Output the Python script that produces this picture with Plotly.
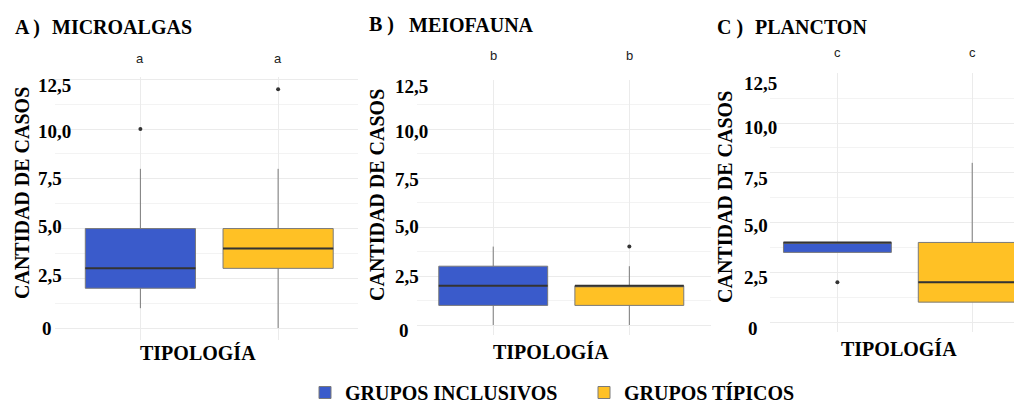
import plotly.graph_objects as go

# figure is a bit taller than the 403 px window; everything is placed in
# window pixels, the extra strip below 403 px stays empty
W, H = 1014, 417

groups = ["GRUPOS INCLUSIVOS", "GRUPOS TÍPICOS"]
colors = ["#3A5BCB", "#FFC125"]

panels = ["MICROALGAS", "MEIOFAUNA", "PLANCTON"]
panel_tags = ["A )", "B )", "C )"]
letters = ["a", "b", "c"]

# box statistics per panel: [inclusivos, típicos]
q1 = [[2, 3], [1, 1], [3.5, 1]]
median = [[3, 4], [2, 2], [4, 2]]
q3 = [[5, 5], [3, 2], [4, 4]]
lowerfence = [[1, 0], [0, 0], [3.5, 1]]
upperfence = [[8, 8], [4, 3], [4, 8]]
outliers = [[[10], [12]], [[], [4]], [[2], []]]

tick_vals = [0, 2.5, 5, 7.5, 10, 12.5]
tick_text = ["0", "2,5", "5,0", "7,5", "10,0", "12,5"]


def fx(px):
    return px / W


def fy(py):
    return 1 - py / H


# layout geometry (window pixels)
x_dom_px = [(55, 358), (417, 711), (770, 1014)]
x_rng = [(-0.62, 1.58), (-0.56, 1.6), (-0.5, 1.31)]
y_dom_px = [(77.3, 340), (80, 334.8), (73.3, 332)]
y_rng = [(-0.6, 12.6), (-0.5, 12.5), (-0.5, 12.5)]
tick_lbl_y = [[328, 275, 227, 178, 131, 85], [330, 276, 227, 179, 131, 86], [328, 277, 225, 178, 128, 83]]
tick_lbl_x = [36, 393, 742]
title_tag_x = [13, 367, 715]
title_name_x = [50, 407, 753]
title_y = [27, 25, 27]
letter_y = [58, 55, 52]
ytitle_x = [22, 377, 725]
ytitle_y = [193, 195, 197]
xtitle_x = [198, 551, 899]
xtitle_y = [353, 352, 349]

SERIF = "Liberation Serif"
BW = 0.8

fig = go.Figure()
ann = []
layout = {}

for p in range(3):
    sfx = "" if p == 0 else str(p + 1)
    xa, ya = "x" + sfx, "y" + sfx
    for g in range(2):
        fig.add_trace(go.Box(
            x=[g], q1=[q1[p][g]], median=[median[p][g]], q3=[q3[p][g]],
            lowerfence=[lowerfence[p][g]], upperfence=[upperfence[p][g]],
            width=BW, whiskerwidth=0, boxpoints=False,
            fillcolor=colors[g], line=dict(color="#7a7a7a", width=1),
            name=groups[g], legendgroup=groups[g], showlegend=(p == 0),
            xaxis=xa, yaxis=ya, hoverinfo="skip",
        ))
        # thicker median line
        fig.add_trace(go.Scatter(
            x=[g - BW / 2, g + BW / 2], y=[median[p][g]] * 2, mode="lines",
            line=dict(color="#333333", width=2), showlegend=False,
            xaxis=xa, yaxis=ya, hoverinfo="skip",
        ))
        if outliers[p][g]:
            fig.add_trace(go.Scatter(
                x=[g] * len(outliers[p][g]), y=outliers[p][g], mode="markers",
                marker=dict(color="#333333", size=4), showlegend=False,
                xaxis=xa, yaxis=ya, hoverinfo="skip",
            ))
        ann.append(dict(x=g, y=fy(letter_y[p]), xref=xa, yref="paper",
                        text=letters[p], showarrow=False, xanchor="center", yanchor="middle",
                        font=dict(family="Liberation Sans", size=13, color="#222")))

    x0, x1 = x_dom_px[p]
    yt, yb = y_dom_px[p]
    layout["xaxis" + sfx] = dict(
        domain=[fx(x0), fx(x1)], range=list(x_rng[p]), tickvals=[0, 1],
        showticklabels=False, showgrid=True, gridcolor="#ebebeb", gridwidth=1,
        zeroline=False, showline=False, ticks="", anchor=ya,
    )
    layout["yaxis" + sfx] = dict(
        domain=[fy(yb), fy(yt)], range=list(y_rng[p]), tickvals=tick_vals,
        showticklabels=False, showgrid=True, gridcolor="#ebebeb", gridwidth=1,
        minor=dict(tick0=1.25, dtick=2.5, showgrid=True, gridcolor="#f3f3f3", gridwidth=1),
        zeroline=False, showline=False, ticks="", anchor=xa,
    )

    # tick labels
    for t, yy in zip(tick_text, tick_lbl_y[p]):
        xx = tick_lbl_x[p] + (4 if t == "0" else 0)
        ann.append(dict(x=fx(xx), y=fy(yy), xref="paper", yref="paper",
                        text=t, showarrow=False, xanchor="left", yanchor="middle",
                        font=dict(family=SERIF, size=19, color="#000", weight="bold")))
    # titles
    ann.append(dict(x=fx(title_tag_x[p]), y=fy(title_y[p]), xref="paper", yref="paper",
                    text=panel_tags[p], showarrow=False, xanchor="left", yanchor="middle",
                    font=dict(family=SERIF, size=20, color="#000", weight="bold")))
    ann.append(dict(x=fx(title_name_x[p]), y=fy(title_y[p]), xref="paper", yref="paper",
                    text=panels[p], showarrow=False, xanchor="left", yanchor="middle",
                    font=dict(family=SERIF, size=20, color="#000", weight="bold")))
    # axis titles
    ann.append(dict(x=fx(ytitle_x[p]), y=fy(ytitle_y[p]), xref="paper", yref="paper",
                    text="CANTIDAD DE CASOS", showarrow=False, textangle=-90,
                    xanchor="center", yanchor="middle",
                    font=dict(family=SERIF, size=20, color="#000", weight="bold")))
    ann.append(dict(x=fx(xtitle_x[p]), y=fy(xtitle_y[p]), xref="paper", yref="paper",
                    text="TIPOLOGÍA", showarrow=False,
                    xanchor="center", yanchor="middle",
                    font=dict(family=SERIF, size=20, color="#000", weight="bold")))

fig.update_layout(
    width=W, height=H,
    margin=dict(l=0, r=0, t=0, b=0),
    paper_bgcolor="white", plot_bgcolor="white",
    boxmode="overlay",
    showlegend=True,
    legend=dict(orientation="h", x=fx(305), xanchor="left", y=fy(373), yanchor="top",
                font=dict(family=SERIF, size=20, color="#000", weight="bold"),
                entrywidth=234, bgcolor="rgba(0,0,0,0)", itemclick=False),
    annotations=ann,
    **layout,
)

fig.write_html(
    "out.html",
    config={"displayModeBar": False},
    post_script="document.body.style.margin='0px';document.body.style.overflow='hidden';",
)
